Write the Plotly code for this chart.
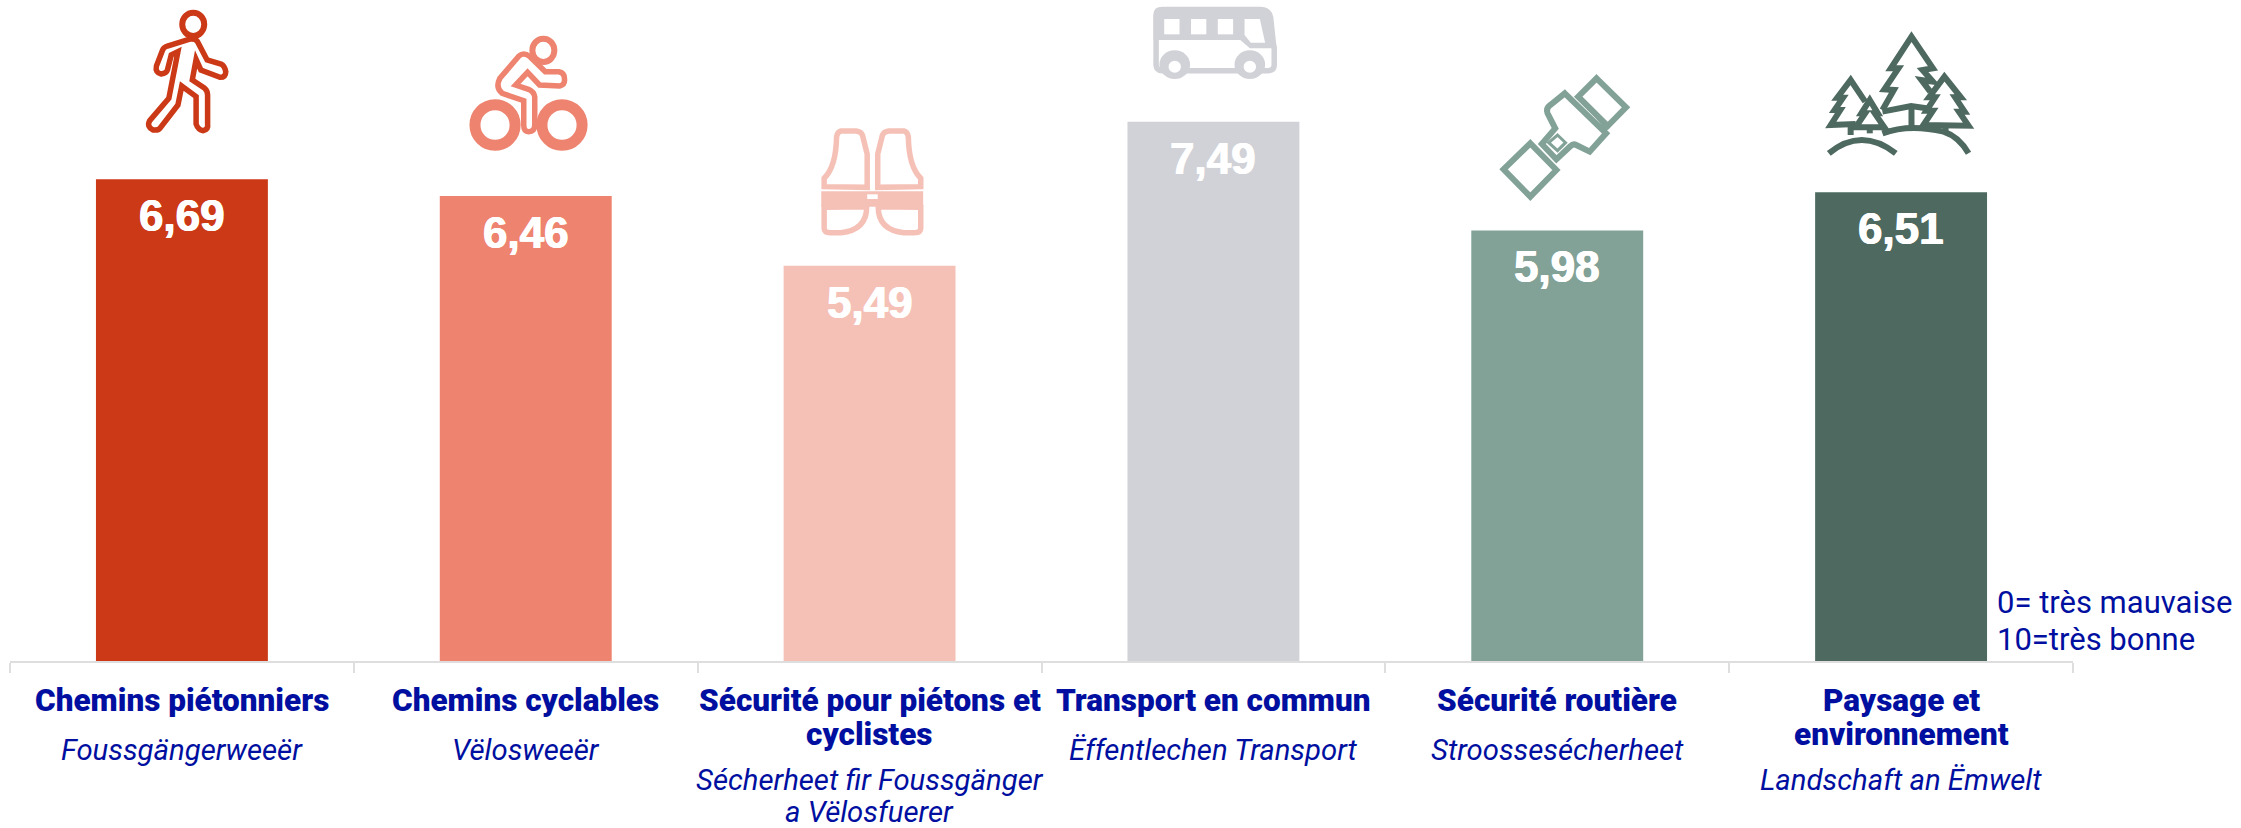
import re
import plotly.graph_objects as go

categories = ["Chemins piétonniers", "Chemins cyclables", "Sécurité pour piétons et cyclistes",
              "Transport en commun", "Sécurité routière", "Paysage et environnement"]
values = [6.69, 6.46, 5.49, 7.49, 5.98, 6.51]
colors = ["#CC3917", "#EE836F", "#F5C1B7", "#D1D2D7", "#82A297", "#4E6960"]
title_lines = [["Chemins piétonniers"], ["Chemins cyclables"], ["Sécurité pour piétons et", "cyclistes"],
               ["Transport en commun"], ["Sécurité routière"], ["Paysage et", "environnement"]]
lux_lines = [["Foussgängerweeër"], ["Vëlosweeër"], ["Sécherheet fir Foussgänger", "a Vëlosfuerer"],
             ["Ëffentlechen Transport"], ["Stroossesécherheet"], ["Landschaft an Ëmwelt"]]
scale_note = ["0= très mauvaise", "10=très bonne"]

W, H = 2241, 828
L, R, B = 10, 2073, 661
BLUE = "#000F9F"
TITLE_FONT = dict(family="Roboto", size=31.5, color=BLUE, weight=900)
LUX_FONT = dict(family="Roboto", size=29.3, color=BLUE, style="italic", weight=400)
NOTE_FONT = dict(family="Roboto", size=31, color=BLUE, weight=400)


def to_paper(px, py):
    return (px - L) / (R - L), 1 - py / B


def ipath(d, x0, sx):
    """Icon outline given in crop coordinates -> paper-referenced SVG path."""
    toks = re.findall(r"[A-Za-z]|-?\d+\.?\d*", d)
    out, buf = [], []
    for t in toks:
        if t.isalpha():
            out.append(t)
        else:
            buf.append(float(t))
            if len(buf) == 2:
                px, py = to_paper(x0 + buf[0] / sx, buf[1] / 3)
                out.append(f"{px:.5f},{py:.5f}")
                buf = []
    return " ".join(out)


shapes = []


def stroke(d, x0, sx, col, w=6, fill="rgba(0,0,0,0)"):
    shapes.append(dict(type="path", xref="paper", yref="paper", path=ipath(d, x0, sx),
                       line=dict(color=col, width=w), fillcolor=fill, layer="above"))


def solid(d, x0, sx, col):
    shapes.append(dict(type="path", xref="paper", yref="paper", path=ipath(d, x0, sx),
                       line=dict(width=0), fillcolor=col, layer="above"))


def ring(cx, cy, rx, ry, x0, sx, col, w, fill="rgba(0,0,0,0)"):
    a = to_paper(x0 + (cx - rx) / sx, (cy + ry) / 3)
    b = to_paper(x0 + (cx + rx) / sx, (cy - ry) / 3)
    shapes.append(dict(type="circle", xref="paper", yref="paper", x0=a[0], y0=a[1], x1=b[0], y1=b[1],
                       line=dict(color=col, width=w), fillcolor=fill, layer="above"))


# walker
c, x0, sx = colors[0], 0, 2.0907
ring(404, 73, 23, 35, x0, sx, c, 6)
stroke("M395,118 L350,138 Q342,142 340,150 L327,198 Q324,218 337,222 Q348,220 350,210 L358,165 L372,155 "
       "L353,295 L313,362 Q306,380 320,390 Q332,392 336,382 L372,315 L380,258 L410,290 L410,372 Q414,390 425,392 "
       "Q436,388 434,372 L434,285 Q434,272 428,265 L402,240 L410,178 L420,210 L460,232 Q472,232 472,215 "
       "Q470,198 462,192 L433,180 L413,125 Q408,115 395,118 Z", x0, sx, c, 5.5)
# cyclist
c = colors[1]
ring(1136, 151, 23, 35, x0, sx, c, 6)
ring(1035, 375, 42, 61, x0, sx, c, 11)
ring(1175, 375, 42, 61, x0, sx, c, 11)
stroke("M1085,168 L1045,235 Q1035,262 1050,280 L1095,302 L1095,375 Q1095,395 1105,395 Q1118,395 1118,375 "
       "L1118,290 Q1116,275 1105,268 L1078,255 L1103,217 L1128,255 L1170,258 Q1182,255 1180,235 Q1180,218 1168,215 "
       "L1140,215 L1108,170 Q1095,155 1085,168 Z", x0, sx, c, 5.5)
# vest
c, x0 = colors[2], 750
for m in (0, 1):
    f = (lambda x: x) if m == 0 else (lambda x: 512 - x)
    stroke(f"M{f(190)},393 L{f(222)},393 Q{f(232)},395 {f(235)},405 L{f(245)},462 L{f(245)},562 L{f(155)},560 "
           f"L{f(155)},535 Q{f(180)},500 {f(181)},410 Q{f(183)},395 {f(190)},393 Z", x0, sx, c, 5.5)
    stroke(f"M{f(155)},622 L{f(244)},620 Q{f(244)},690 {f(190)},698 L{f(168)},698 Q{f(155)},698 {f(155)},685 Z",
           x0, sx, c, 5.5)
solid("M149,574 L362,574 L362,620 L149,620 Z", x0, sx, c)
solid("M245,583 L267,583 L267,597 L245,597 Z", x0, sx, "#FFFFFF")
# bus
c = colors[3]
stroke("M849,120 L849,195 Q850,212 862,212 L1082,212 Q1096,212 1096,195 L1096,140", x0, sx, c, 5.5)
solid("M862,20 L1068,20 Q1090,22 1094,50 L1100,130 L1102,145 L1045,145 L1025,120 L843,120 L843,45 Q843,20 862,20 Z",
      x0, sx, c)
for wx in (866, 922, 978):
    solid(f"M{wx},57 L{wx + 32},57 L{wx + 32},103 L{wx},103 Z", x0, sx, "#FFFFFF")
solid("M1034,57 L1066,57 L1077,128 L1047,128 L1034,105 Z", x0, sx, "#FFFFFF")
for wx in (888, 1045):
    ring(wx, 194, 32, 43, x0, sx, c, 0, c)
    ring(wx, 200, 13, 18, x0, sx, "#FFFFFF", 0, "#FFFFFF")
# seat belt
c, x0, sx = colors[4], 1450, 2.6133
stroke("M383,235 L460,322 L412,378 L335,290 Z", x0, sx, c, 6)
solid("M335,290 L350,296 L418,376 L408,392 Z", x0, sx, c)
stroke("M300,280 L408,400 L365,455 L330,435 Q322,430 315,438 L278,478 L240,432 L275,385 L255,340 Q250,325 262,315 Z",
       x0, sx, c, 6)
stroke("M281,405 L302,428 L281,452 L258,428 Z", x0, sx, c, 3)
stroke("M210,430 L278,510 L210,590 L140,508 Z", x0, sx, c, 6)
# trees
c = colors[5]
stroke("M1130,330 L1160,270 L1135,268 L1172,205 L1152,205 L1206,110 L1262,205 L1235,210 L1262,245 L1232,240 L1255,275",
       x0, sx, c, 6)
stroke("M1130,335 L1205,318 L1245,325", x0, sx, c, 6)
stroke("M1206,320 L1206,378", x0, sx, c, 6)
stroke("M1060,372 L995,375 L1020,330 L1005,330 L1027,293 L1012,293 L1047,240 L1085,305", x0, sx, c, 6)
stroke("M1047,375 L1047,405", x0, sx, c, 6)
stroke("M1097,300 L1118,340 L1110,340 L1135,382 L1060,382 L1085,340 L1075,340 Z", x0, sx, c, 6, "#FFFFFF")
stroke("M1097,382 L1097,400", x0, sx, c, 6)
stroke("M1292,230 L1335,292 L1320,292 L1345,335 L1330,335 L1355,377 L1237,375 L1262,332 L1245,332 L1268,292 L1252,292 Z",
       x0, sx, c, 6, "#FFFFFF")
stroke("M1295,378 L1295,400", x0, sx, c, 6)
stroke("M990,460 Q1075,380 1165,460", x0, sx, c, 6)
stroke("M1130,400 Q1200,370 1290,395 Q1330,410 1355,460", x0, sx, c, 6)

fig = go.Figure(go.Bar(x=categories, y=values, marker=dict(color=colors, line=dict(width=0)), width=0.5,
                       hoverinfo="skip"))

ann = []
for cat, v in zip(categories, values):
    ann.append(dict(x=cat, y=v, xref="x", yref="y", yanchor="top", yshift=-10, showarrow=False,
                    text=f"{v:.2f}".replace(".", ","),
                    font=dict(family="Liberation Sans", size=44, color="#FFFFFF", weight=700,
                              shadow="0.6px 0 0 #fff, -0.6px 0 0 #fff")))


def line_at(cat, text, baseline, font):
    ann.append(dict(x=cat, y=0, xref="x", yref="y", yanchor="top", showarrow=False, text=text, font=font,
                    yshift=-(baseline - B - font["size"] * 0.95)))


for cat, tl, ll in zip(categories, title_lines, lux_lines):
    base = 710
    for t in tl:
        line_at(cat, t, base, TITLE_FONT)
        base += 34
    base = 759 if len(tl) == 1 else 789
    for t in ll:
        line_at(cat, t, base, LUX_FONT)
        base += 32

for t, base in zip(scale_note, (611, 648)):
    ann.append(dict(x=(1995 - L) / (R - L), y=1 - (base - NOTE_FONT["size"] * 0.95) / B, xref="paper", yref="paper",
                    xanchor="left", yanchor="top", showarrow=False, text=t, font=NOTE_FONT))

fig.update_layout(
    width=W, height=H, margin=dict(l=L, r=W - R, t=0, b=H - B, pad=0, autoexpand=False),
    paper_bgcolor="#FFFFFF", plot_bgcolor="#FFFFFF", showlegend=False,
    annotations=ann, shapes=shapes,
    xaxis=dict(type="category", range=[-0.5, 5.5], tickson="boundaries", ticks="outside", ticklen=10, tickwidth=1.5,
               tickcolor="#DEDEDE", showline=True, linecolor="#DEDEDE", linewidth=2, showticklabels=False,
               showgrid=False, zeroline=False),
    yaxis=dict(range=[0, B / 72], visible=False, showgrid=False, zeroline=False),
)
fig.write_html("out.html", config={"displayModeBar": False},
               post_script="document.body.style.margin='0';document.body.style.overflow='hidden';")
